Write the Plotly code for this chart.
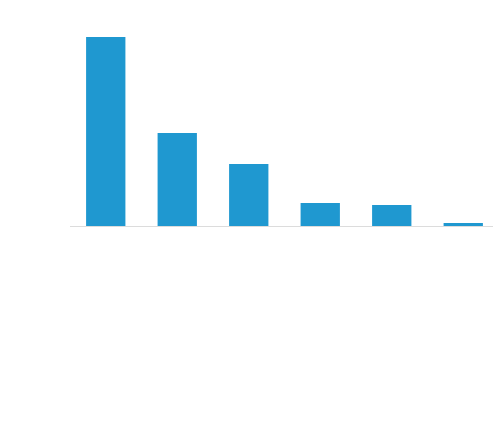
import plotly.graph_objects as go

categories = ["A", "B", "C", "D", "E", "F"]
values = [189, 93, 62, 23, 21, 3]

fig = go.Figure(
    go.Bar(
        x=categories,
        y=values,
        marker=dict(color="#1f98d0", line=dict(width=0)),
        hoverinfo="skip",
    )
)

fig.update_layout(
    width=493,
    height=426,
    margin=dict(l=62, r=2, t=29, b=208),
    paper_bgcolor="white",
    plot_bgcolor="white",
    bargap=0.45,
    showlegend=False,
    xaxis=dict(
        showticklabels=False,
        ticks="",
        showgrid=False,
        zeroline=False,
        showline=True,
        linecolor="#dcdcdc",
        linewidth=1,
    ),
    yaxis=dict(
        range=[0, 189],
        showticklabels=False,
        ticks="",
        showgrid=False,
        zeroline=False,
        showline=False,
    ),
)

fig.write_html("out.html")
